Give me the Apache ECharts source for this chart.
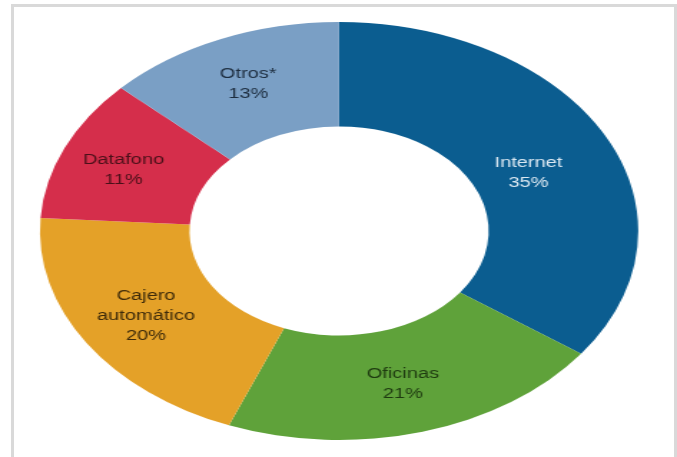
<!DOCTYPE html>
<html>
<head>
<meta charset="utf-8">
<script src="https://cdn.jsdelivr.net/npm/echarts@6/dist/echarts.min.js"></script>
<style>
  html, body { margin: 0; padding: 0; background: #fff; }
  #wrap { position: relative; width: 677px; height: 457px; overflow: hidden; background: #fff; }
  #frame { position: absolute; left: 11px; top: 4px; width: 660px; height: 470px;
           border-left: 3px solid #d9d9d9; border-top: 3px solid #d9d9d9; border-right: 3px solid #d9d9d9; }
  #chart { position: absolute; left: 0; top: 0; width: 473px; height: 457px;
           transform: scaleX(1.4313); transform-origin: 0 0; }
</style>
</head>
<body>
<div id="wrap">
  <div id="frame"></div>
  <div id="chart"></div>
</div>
<script>
const categories = ['Internet', 'Oficinas', 'Cajero\nautomático', 'Datafono', 'Otros*'];
const values = [35, 21, 20, 11, 13];
const sliceColors = ['#0b5d90', '#5fa23a', '#e4a128', '#d52e4b', '#7a9fc5'];
const labelColors = ['#dbe8f2', '#1e3a10', '#3d2a0a', '#4a1019', '#1d2d3f'];

// label nudges (layout only, in unscaled chart px)
const labelNudge = { 'Internet': [-10, 15], 'Datafono': [-4, 3] };

const chart = echarts.init(document.getElementById('chart'), null, { renderer: 'canvas' });
chart.setOption({
  animation: false,
  series: [{
    type: 'pie',
    center: [236.9, 231],
    radius: [104.5, 209],
    startAngle: 90,
    clockwise: true,
    avoidLabelOverlap: false,
    data: categories.map((c, i) => ({
      name: c,
      value: values[i],
      itemStyle: { color: sliceColors[i] },
      label: Object.assign({ color: labelColors[i] },
        labelNudge[c] ? { offset: labelNudge[c] } : {})
    })),
    label: {
      show: true,
      position: 'inside',
      formatter: '{b}\n{d}%',
      fontFamily: 'Liberation Sans, Arial, sans-serif',
      fontSize: 14,
      lineHeight: 20,
      align: 'center'
    },
    labelLine: { show: false },
    itemStyle: { borderWidth: 0 },
    emphasis: { disabled: true }
  }]
});
</script>
</body>
</html>
